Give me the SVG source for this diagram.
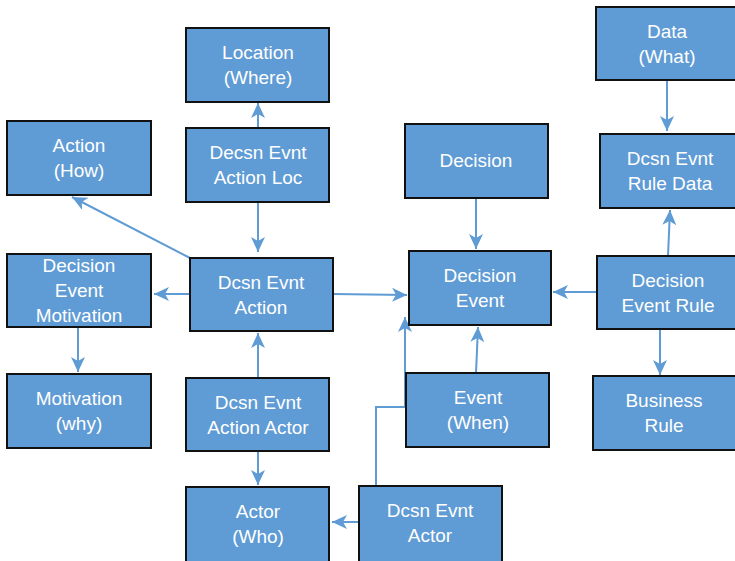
<svg xmlns="http://www.w3.org/2000/svg" width="735" height="561" viewBox="0 0 735 561">
<style>
.n rect{fill:#5f9bd4;stroke:#111;stroke-width:2}
.n text{fill:#fff;font-family:"Liberation Sans Narrow","Liberation Sans",sans-serif;font-size:19px;text-anchor:middle}
.c path{fill:none;stroke:#5f9bd4;stroke-width:2;marker-end:url(#a)}
</style>
<defs>
<marker id="a" markerUnits="userSpaceOnUse" markerWidth="16" markerHeight="16" refX="15" refY="8" orient="auto">
<path d="M0,1 L15,8 L0,15 L4,8 z" fill="#5f9bd4"/>
</marker>
</defs>
<rect width="735" height="561" fill="#fff"/>
<g class="c">
<path d="M258,128 V103"/>
<path d="M258,202 V252"/>
<path d="M190,258 L72,197"/>
<path d="M190,294 H154"/>
<path d="M333,294 L407,295"/>
<path d="M258,378 V333"/>
<path d="M258,451 V485"/>
<path d="M78,327 V372"/>
<path d="M476,198 V249"/>
<path d="M476,373 L478,327"/>
<path d="M376,486 V407 H405 V317"/>
<path d="M359,522 H332"/>
<path d="M667,80 V131"/>
<path d="M668,256 L670,210"/>
<path d="M597,292 H553"/>
<path d="M660,329 V375"/>
</g>
<g id="location" class="n"><rect x="186" y="28" width="143" height="74"/><text x="258" y="59">Location</text><text x="258" y="84">(Where)</text></g>
<g id="data" class="n"><rect x="596" y="7" width="142" height="73"/><text x="667" y="38">Data</text><text x="667" y="63">(What)</text></g>
<g id="action" class="n"><rect x="7" y="121" width="144" height="74"/><text x="79" y="152">Action</text><text x="79" y="177">(How)</text></g>
<g id="actionloc" class="n"><rect x="186" y="128" width="143" height="74"/><text x="258" y="159">Decsn Evnt</text><text x="258" y="184">Action Loc</text></g>
<g id="decision" class="n"><rect x="405" y="124" width="143" height="74"/><text x="476" y="167">Decision</text></g>
<g id="ruledata" class="n"><rect x="600" y="134" width="138" height="74"/><text x="670" y="165">Dcsn Evnt</text><text x="670" y="190">Rule Data</text></g>
<g id="motivationlink" class="n"><rect x="7" y="254" width="144" height="73"/><text x="79" y="272">Decision</text><text x="79" y="297">Event</text><text x="79" y="322">Motivation</text></g>
<g id="evntaction" class="n"><rect x="190" y="258" width="143" height="73"/><text x="261" y="289">Dcsn Evnt</text><text x="261" y="314">Action</text></g>
<g id="decisionevent" class="n"><rect x="409" y="251" width="142" height="74"/><text x="480" y="282">Decision</text><text x="480" y="307">Event</text></g>
<g id="eventrule" class="n"><rect x="597" y="256" width="141" height="73"/><text x="668" y="287">Decision</text><text x="668" y="312">Event Rule</text></g>
<g id="motivation" class="n"><rect x="7" y="374" width="144" height="74"/><text x="79" y="405">Motivation</text><text x="79" y="430">(why)</text></g>
<g id="actionactor" class="n"><rect x="186" y="378" width="143" height="73"/><text x="258" y="409">Dcsn Evnt</text><text x="258" y="434">Action Actor</text></g>
<g id="event" class="n"><rect x="406" y="373" width="143" height="74"/><text x="478" y="404">Event</text><text x="478" y="429">(When)</text></g>
<g id="businessrule" class="n"><rect x="593" y="376" width="145" height="74"/><text x="664" y="407">Business</text><text x="664" y="432">Rule</text></g>
<g id="actor" class="n"><rect x="186" y="487" width="143" height="76"/><text x="258" y="518">Actor</text><text x="258" y="543">(Who)</text></g>
<g id="evntactor" class="n"><rect x="359" y="486" width="143" height="76"/><text x="430" y="517">Dcsn Evnt</text><text x="430" y="542">Actor</text></g>
</svg>
